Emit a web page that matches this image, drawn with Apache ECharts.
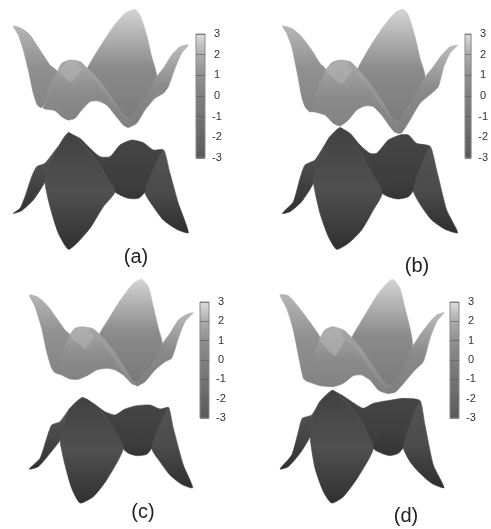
<!DOCTYPE html>
<html>
<head>
<meta charset="utf-8">
<script src="https://cdn.jsdelivr.net/npm/echarts@6/dist/echarts.min.js"></script>
<style>
	html, body { margin: 0; padding: 0; background: #fff; }
	#chart { width: 491px; height: 529px; filter: blur(0.6px); }
</style>
</head>
<body>
<div id="chart"></div>
<script>
// colour bar ticks, and the grey each level reads as
var barTicks = [-3, -2, -1, 0, 1, 2, 3];
var shadeLevels = [-5, -4, -3, -2, -1, 0, 1, 2, 3];
var shadeGreys = [46, 62, 88, 104, 116, 128, 144, 172, 222];

var panelNames = ['(a)', '(b)', '(c)', '(d)'];

// surface patches of each panel, x/y in the panel's own axis units
var aBackLeft = [[40, 78], [65, 85], [90, 105], [120, 150], [150, 195], [172, 215], [150, 255], [140, 300], [125, 323], [112, 315], [100, 280], [85, 210], [70, 150], [55, 105]];
var aBackBig = [[262, 205], [300, 140], [340, 80], [375, 40], [405, 28], [420, 45], [440, 105], [455, 170], [470, 230], [440, 300], [400, 350], [385, 375], [370, 365], [340, 320], [300, 265], [262, 225]];
var aRightWing = [[470, 230], [490, 205], [515, 165], [540, 140], [565, 135], [545, 160], [525, 205], [505, 260], [490, 280], [465, 295], [435, 330], [410, 370], [385, 382], [395, 350], [430, 300]];
var aHump = [[210, 180], [240, 185], [262, 205], [300, 245], [340, 300], [370, 345], [385, 352], [395, 352], [385, 382], [370, 375], [345, 345], [320, 315], [295, 303], [270, 305], [245, 330], [225, 355], [205, 360], [185, 350], [165, 332], [130, 325], [140, 300], [150, 255], [172, 215], [185, 190]];
var aLowBack = [[205, 398], [240, 415], [270, 445], [300, 470], [330, 470], [360, 435], [395, 420], [430, 428], [460, 450], [490, 450], [435, 575], [345, 575], [320, 530], [280, 470], [235, 420]];
var aLowWing = [[175, 440], [135, 490], [110, 500], [95, 530], [75, 590], [60, 625], [40, 640], [65, 632], [100, 600], [135, 545]];
var aLowFront = [[205, 398], [175, 440], [135, 540], [150, 620], [175, 700], [205, 748], [235, 725], [270, 685], [310, 620], [345, 575], [320, 530], [280, 470], [235, 420]];
var aLowRight = [[490, 450], [510, 520], [535, 610], [565, 698], [530, 688], [490, 660], [460, 620], [435, 575]];
var aBowl = [[345, 575], [375, 550], [400, 540], [425, 550], [435, 575], [415, 595], [385, 595]];
var aCap = [[175, 212], [210, 182], [250, 195], [240, 215], [215, 245], [195, 232]];
var aRidge = [[240, 185], [262, 205], [300, 245], [340, 300], [370, 345], [385, 352], [392, 352], [378, 358], [340, 312], [300, 258], [262, 217], [232, 195]];

var bBackLeft = [[112, 78], [140, 85], [170, 110], [200, 150], [225, 190], [243, 210], [215, 280], [195, 335], [180, 320], [170, 290], [155, 210], [140, 140], [125, 100]];
var bBackBig = [[338, 207], [375, 140], [415, 80], [450, 38], [475, 28], [490, 45], [510, 110], [525, 175], [540, 232], [510, 290], [470, 350], [458, 385], [445, 375], [415, 330], [380, 270], [338, 225]];
var bRightWing = [[540, 232], [565, 200], [590, 165], [615, 140], [638, 136], [615, 160], [595, 205], [580, 260], [560, 280], [525, 310], [495, 360], [470, 398], [455, 398], [465, 360], [500, 300]];
var bHump = [[285, 180], [315, 185], [338, 207], [375, 250], [415, 310], [445, 360], [460, 365], [470, 398], [450, 397], [435, 380], [410, 345], [385, 320], [360, 318], [335, 330], [310, 360], [285, 378], [265, 370], [240, 345], [205, 335], [195, 335], [215, 280], [225, 250], [243, 210], [260, 188]];
var bLowBack = [[285, 383], [315, 400], [345, 435], [375, 460], [395, 460], [430, 420], [465, 405], [490, 405], [515, 430], [555, 440], [505, 570], [412, 578], [375, 510], [340, 450]];
var bLowWing = [[255, 410], [210, 480], [180, 495], [165, 535], [145, 605], [112, 640], [135, 635], [170, 605], [205, 550]];
var bLowFront = [[285, 383], [255, 410], [225, 470], [205, 540], [225, 640], [250, 710], [275, 748], [310, 730], [350, 690], [385, 630], [412, 578], [375, 510], [340, 450], [310, 410]];
var bLowRight = [[555, 440], [575, 510], [605, 630], [638, 698], [600, 688], [560, 660], [530, 620], [505, 570]];
var bBowl = [[412, 578], [440, 525], [465, 518], [490, 530], [505, 570], [490, 590], [460, 597], [430, 590]];
var bCap = [[243, 210], [285, 182], [325, 195], [312, 225], [290, 252], [265, 235]];
var bRidge = [[315, 185], [338, 207], [375, 250], [415, 310], [445, 360], [460, 365], [452, 368], [405, 312], [370, 262], [335, 220], [305, 195]];

var cBackLeft = [[88, 90], [115, 97], [145, 125], [170, 160], [195, 195], [210, 210], [185, 285], [165, 322], [155, 310], [140, 260], [125, 190], [105, 125]];
var cBackBig = [[298, 208], [330, 155], [365, 100], [400, 55], [425, 43], [445, 65], [460, 125], [475, 190], [487, 238], [465, 290], [425, 335], [408, 358], [395, 348], [370, 320], [335, 265], [298, 225]];
var cRightWing = [[487, 238], [510, 205], [535, 165], [560, 148], [580, 143], [555, 170], [535, 220], [515, 280], [495, 290], [465, 315], [435, 350], [410, 363], [425, 335], [465, 290]];
var cHump = [[245, 185], [275, 190], [298, 208], [335, 250], [375, 310], [400, 350], [410, 352], [415, 363], [395, 355], [370, 330], [345, 315], [320, 310], [290, 315], [265, 330], [235, 343], [210, 342], [185, 330], [165, 322], [185, 285], [195, 245], [210, 210], [225, 190]];
var cLowBack = [[245, 398], [280, 415], [315, 440], [345, 450], [375, 432], [410, 422], [450, 420], [480, 432], [505, 428], [455, 548], [370, 548], [340, 490], [300, 435]];
var cLowWing = [[210, 430], [180, 470], [155, 480], [140, 520], [120, 580], [88, 612], [115, 605], [150, 565], [180, 525]];
var cLowFront = [[245, 398], [210, 430], [190, 490], [180, 525], [195, 600], [215, 670], [240, 714], [280, 695], [320, 645], [370, 550], [340, 490], [300, 435], [265, 405]];
var cLowRight = [[505, 428], [520, 490], [550, 600], [578, 668], [545, 658], [510, 630], [480, 590], [455, 548]];
var cBowl = [[370, 550], [395, 520], [420, 510], [445, 525], [455, 548], [440, 568], [410, 572], [385, 565]];
var cCap = [[210, 212], [245, 187], [285, 197], [275, 225], [255, 252], [235, 235]];
var cRidge = [[275, 190], [298, 208], [335, 250], [375, 310], [400, 350], [410, 352], [398, 358], [365, 315], [328, 262], [295, 222], [265, 198]];

var dBackLeft = [[105, 90], [130, 92], [160, 125], [190, 165], [215, 200], [225, 220], [205, 280], [185, 348], [175, 340], [160, 270], [145, 195], [125, 130]];
var dBackBig = [[320, 218], [360, 150], [400, 85], [430, 50], [445, 43], [465, 70], [480, 130], [495, 190], [503, 245], [480, 300], [450, 350], [428, 378], [410, 365], [385, 330], [350, 275], [320, 235]];
var dRightWing = [[503, 245], [525, 210], [555, 170], [575, 150], [597, 143], [575, 170], [555, 220], [535, 290], [510, 315], [480, 350], [450, 382], [425, 384], [445, 350], [480, 300]];
var dHump = [[262, 185], [295, 195], [320, 218], [355, 260], [395, 320], [425, 360], [440, 362], [425, 384], [400, 375], [375, 345], [350, 330], [325, 332], [295, 355], [265, 365], [225, 362], [195, 352], [185, 348], [205, 280], [215, 250], [225, 220], [240, 195]];
var dLowBack = [[262, 376], [290, 390], [320, 410], [355, 430], [385, 415], [440, 405], [475, 400], [525, 408], [475, 545], [385, 548], [355, 480], [320, 430], [285, 395]];
var dLowWing = [[225, 410], [200, 450], [172, 460], [160, 500], [140, 570], [105, 612], [130, 605], [165, 565], [195, 515]];
var dLowFront = [[262, 376], [225, 410], [200, 470], [195, 515], [210, 610], [235, 680], [260, 714], [295, 695], [340, 635], [385, 550], [355, 480], [320, 430], [285, 395]];
var dLowRight = [[525, 408], [540, 480], [565, 600], [597, 668], [560, 655], [525, 625], [495, 590], [475, 545]];
var dBowl = [[385, 550], [410, 495], [430, 485], [455, 500], [475, 545], [460, 565], [435, 572], [410, 565]];
var dCap = [[225, 222], [262, 187], [305, 205], [290, 240], [270, 272], [245, 250]];
var dRidge = [[295, 195], [320, 218], [355, 260], [395, 320], [425, 360], [440, 362], [425, 368], [385, 325], [348, 272], [315, 232], [285, 205]];

// shade levels top to bottom for the same patch in every panel
var backLeftLevels = [2.2, 1.0, 0.3];
var backBigLevels = [2.8, 0.7, -0.6];
var rightWingLevels = [2.3, 0.6, -0.2];
var humpLevels = [1.9, 0.7, 0];
var lowBackLevels = [-3.7, -3.9, -4.1];
var lowWingLevels = [-3.0, -3.7, -4.8];
var lowFrontLevels = [-3.9, -3.3, -4.9];
var lowRightLevels = [-3.2, -3.5, -5];
var bowlLevels = [-3.9, -4.6];
var capLevels = [2.05, 1.75];
var ridgeLevels = [1.8, 1.2, 0.6];

var levelOrder = [backLeftLevels, backBigLevels, rightWingLevels, humpLevels, capLevels, ridgeLevels, lowBackLevels, lowWingLevels, lowFrontLevels, lowRightLevels, bowlLevels];

var panelA = [aBackLeft, aBackBig, aRightWing, aHump, aCap, aRidge, aLowBack, aLowWing, aLowFront, aLowRight, aBowl];
var panelB = [bBackLeft, bBackBig, bRightWing, bHump, bCap, bRidge, bLowBack, bLowWing, bLowFront, bLowRight, bBowl];
var panelC = [cBackLeft, cBackBig, cRightWing, cHump, cCap, cRidge, cLowBack, cLowWing, cLowFront, cLowRight, cBowl];
var panelD = [dBackLeft, dBackBig, dRightWing, dHump, dCap, dRidge, dLowBack, dLowWing, dLowFront, dLowRight, dBowl];

var panels = [panelA, panelB, panelC, panelD];

// layout of the four panels in the window
var panelBoxes = [
	{ left: 0, top: 0, bar: [196, 34, 9, 124], label: [136, 247] },
	{ left: 245, top: 0, bar: [465, 34, 9, 124], label: [417, 256] },
	{ left: 0, top: 265, bar: [200, 302, 9, 116], label: [143, 502] },
	{ left: 245, top: 265, bar: [450, 302, 9, 116], label: [406, 506] }
];

function shade(level) {
	var i = 0;
	if (level <= shadeLevels[0]) {
		i = 0;
	} else {
		while (i < shadeLevels.length - 2 && level > shadeLevels[i + 1]) {
			i++;
		}
	}
	var t = (level - shadeLevels[i]) / (shadeLevels[i + 1] - shadeLevels[i]);
	t = Math.max(0, Math.min(1, t));
	var g = Math.round(shadeGreys[i] + (shadeGreys[i + 1] - shadeGreys[i]) * t);
	return 'rgb(' + g + ',' + g + ',' + g + ')';
}

function gradientOf(levels) {
	var stops = [];
	for (var i = 0; i < levels.length; i++) {
		stops.push({ offset: i / (levels.length - 1), color: shade(levels[i]) });
	}
	return new echarts.graphic.LinearGradient(0, 0, 0, 1, stops);
}

function surfaceRenderer(patches) {
	return function (params, api) {
		var idx = api.value(0);
		var points = [];
		for (var i = 0; i < patches[idx].length; i++) {
			points.push(api.coord(patches[idx][i]));
		}
		var fill = gradientOf(levelOrder[idx]);
		return {
			type: 'polygon',
			shape: { points: points, smooth: 0.2 },
			style: { fill: fill, stroke: fill, lineWidth: 0.6 }
		};
	};
}

function renderBar(params, api) {
	var from = api.coord([0, 3]);
	var to = api.coord([1, -3]);
	var stops = [];
	for (var i = barTicks.length - 1; i >= 0; i--) {
		stops.push({ offset: (3 - barTicks[i]) / 6, color: shade(barTicks[i]) });
	}
	return {
		type: 'rect',
		shape: { x: from[0], y: from[1], width: to[0] - from[0], height: to[1] - from[1] },
		style: {
			fill: new echarts.graphic.LinearGradient(0, 0, 0, 1, stops),
			stroke: '#8a8a8a',
			lineWidth: 1
		}
	};
}

var option = {
	animation: false,
	backgroundColor: '#fff',
	title: [],
	grid: [],
	xAxis: [],
	yAxis: [],
	series: []
};

panelBoxes.forEach(function (box, p) {
	var patchIds = panels[p].map(function (pts, i) {
		return [i];
	});

	// surface grid, axis units are 3 per pixel
	option.grid.push({ left: box.left, top: box.top, width: 245, height: 264 });
	option.xAxis.push({ type: 'value', gridIndex: p * 2, min: 0, max: 735, show: false });
	option.yAxis.push({ type: 'value', gridIndex: p * 2, min: 0, max: 792, inverse: true, show: false });
	option.series.push({
		type: 'custom',
		xAxisIndex: p * 2,
		yAxisIndex: p * 2,
		clip: false,
		silent: true,
		data: patchIds,
		renderItem: surfaceRenderer(panels[p])
	});

	// colour bar grid
	option.grid.push({ left: box.bar[0], top: box.bar[1], width: box.bar[2], height: box.bar[3] });
	option.xAxis.push({ type: 'value', gridIndex: p * 2 + 1, min: 0, max: 1, show: false });
	option.yAxis.push({
		type: 'value',
		gridIndex: p * 2 + 1,
		min: -3,
		max: 3,
		interval: 1,
		position: 'right',
		z: 10,
		axisLine: { show: false },
		axisTick: { show: false },
		splitLine: { show: true, lineStyle: { color: '#5a5a5a', width: 1, opacity: 0.6 } },
		axisLabel: { color: '#333', fontSize: 11, fontFamily: 'Liberation Sans', margin: 12, align: 'center' }
	});
	option.series.push({
		type: 'custom',
		xAxisIndex: p * 2 + 1,
		yAxisIndex: p * 2 + 1,
		silent: true,
		data: [[0]],
		renderItem: renderBar
	});

	option.title.push({
		text: panelNames[p],
		left: box.label[0],
		top: box.label[1],
		padding: 0,
		textAlign: 'center',
		textStyle: { color: '#222', fontSize: 20, fontWeight: 'normal', fontFamily: 'Liberation Sans' }
	});
});

var chart = echarts.init(document.getElementById('chart'), null, { renderer: 'canvas' });
chart.setOption(option);
</script>
</body>
</html>
